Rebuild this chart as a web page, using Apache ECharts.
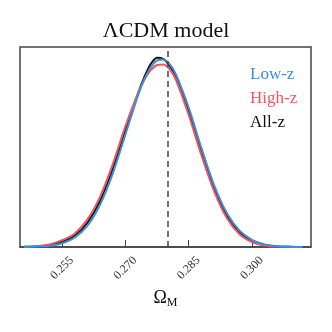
<!DOCTYPE html>
<html>
<head>
<meta charset="utf-8">
<script src="https://cdn.jsdelivr.net/npm/echarts@6/dist/echarts.min.js"></script>
<style>
  html, body { margin: 0; padding: 0; background: #fff; }
  #chart { width: 332px; height: 332px; }
</style>
</head>
<body>
<div id="chart"></div>
<script>
// 数据（从图上读取的后验分布估计值）
var omegaM = [0.246, 0.249, 0.252, 0.255, 0.258, 0.261, 0.264, 0.267, 0.270, 0.273, 0.2745, 0.276, 0.2775,
              0.279, 0.2805, 0.282, 0.285, 0.288, 0.291, 0.294, 0.297, 0.300, 0.303, 0.306, 0.309, 0.312];
var lowZ  = [0.000, 0.002, 0.006, 0.019, 0.048, 0.107, 0.212, 0.368, 0.563, 0.759, 0.839, 0.899, 0.933,
             0.938, 0.914, 0.862, 0.697, 0.496, 0.311, 0.171, 0.083, 0.036, 0.013, 0.004, 0.001, 0.000];
var highZ = [0.001, 0.004, 0.013, 0.034, 0.068, 0.138, 0.252, 0.414, 0.604, 0.770, 0.838, 0.885, 0.910,
             0.913, 0.888, 0.835, 0.660, 0.460, 0.280, 0.146, 0.065, 0.025, 0.008, 0.002, 0.001, 0.000];
var allZ  = [0.001, 0.003, 0.009, 0.026, 0.057, 0.122, 0.231, 0.390, 0.583, 0.768, 0.850, 0.915, 0.946,
             0.940, 0.905, 0.850, 0.680, 0.478, 0.295, 0.158, 0.074, 0.030, 0.010, 0.003, 0.001, 0.000];
var bestFit = 0.279;
var tickValues = [0.255, 0.270, 0.285, 0.300];
var seriesNames = ['Low-z', 'High-z', 'All-z'];
var seriesColors = ['#3a8fd8', '#f0555d', '#111111'];

var ChartOper = function () {

    var toPairs = function (xs, ys) {
        return xs.map(function (x, i) { return [x, ys[i]]; });
    };

    var getOption = function () {
        var serif = 'Liberation Serif';
        return {
            animation: false,
            title: {
                text: 'ΛCDM model',
                left: 'center',
                top: 15,
                textStyle: { fontFamily: serif, fontSize: 22, fontWeight: 'normal', color: '#111' }
            },
            legend: {
                orient: 'vertical',
                left: 240,
                top: 61,
                icon: 'none',
                itemGap: 7,
                itemWidth: 0,
                selectedMode: false,
                data: seriesNames.map(function (n, i) {
                    return { name: n, textStyle: { color: seriesColors[i] } };
                }),
                textStyle: { fontFamily: serif, fontSize: 17 }
            },
            grid: {
                left: 20, right: 21, top: 47, bottom: 85,
                show: true, borderColor: '#444', borderWidth: 1.5, backgroundColor: 'transparent'
            },
            xAxis: {
                type: 'value',
                min: 0.245,
                max: 0.314,
                name: '{o|Ω}{s|M}',
                nameLocation: 'middle',
                nameGap: 41,
                nameTextStyle: {
                    rich: {
                        o: { fontFamily: serif, fontSize: 18, color: '#111' },
                        s: { fontFamily: serif, fontSize: 12, color: '#111', padding: [9, 0, 0, 0] }
                    }
                },
                axisLine: { lineStyle: { color: '#444', width: 1.5 } },
                axisTick: { inside: true, length: 7, customValues: tickValues, lineStyle: { color: '#444', width: 1 } },
                axisLabel: {
                    customValues: tickValues,
                    rotate: 45,
                    align: 'center',
                    verticalAlign: 'middle',
                    margin: 21,
                    fontFamily: serif,
                    fontSize: 12,
                    color: '#333',
                    formatter: function (v) { return v.toFixed(3); }
                },
                splitLine: { show: false }
            },
            yAxis: {
                type: 'value',
                min: 0,
                max: 1,
                axisLine: { show: false },
                axisTick: { show: false },
                axisLabel: { show: false },
                splitLine: { show: false }
            },
            series: [
                {
                    name: 'All-z', type: 'line', data: toPairs(omegaM, allZ),
                    smooth: 0.3, showSymbol: false, z: 2,
                    lineStyle: { color: seriesColors[2], width: 2 }, itemStyle: { color: seriesColors[2] },
                    markLine: {
                        silent: true, symbol: 'none', label: { show: false },
                        lineStyle: { color: '#444', type: [6, 4], width: 1.5 },
                        data: [{ xAxis: bestFit }]
                    }
                },
                {
                    name: 'High-z', type: 'line', data: toPairs(omegaM, highZ),
                    smooth: 0.3, showSymbol: false, z: 3,
                    lineStyle: { color: seriesColors[1], width: 2 }, itemStyle: { color: seriesColors[1] }
                },
                {
                    name: 'Low-z', type: 'line', data: toPairs(omegaM, lowZ),
                    smooth: 0.3, showSymbol: false, z: 4,
                    lineStyle: { color: seriesColors[0], width: 2 }, itemStyle: { color: seriesColors[0] }
                }
            ]
        };
    };

    var loadChart = function (el) {
        var myChart = echarts.init(el);
        myChart.setOption(getOption());
    };

    return {
        init: function () { loadChart(document.getElementById('chart')); }
    };
}();

ChartOper.init();
</script>
</body>
</html>
